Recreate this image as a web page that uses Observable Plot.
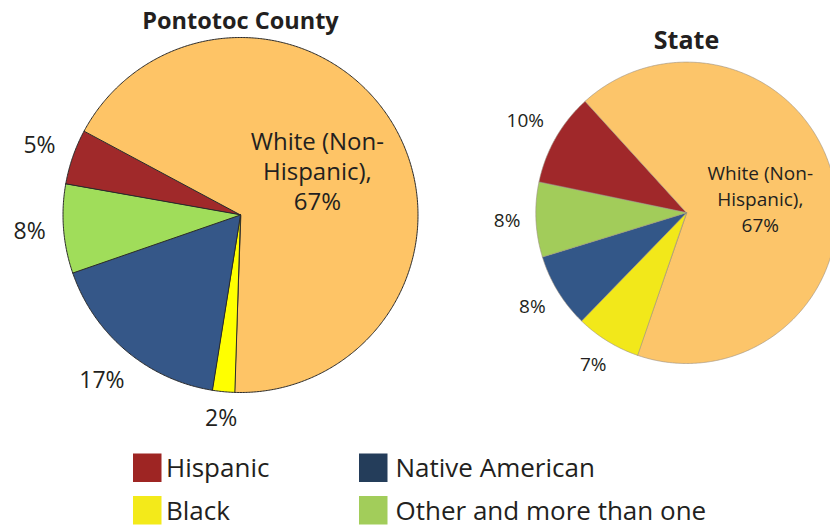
<!DOCTYPE html>
<html><head><meta charset="utf-8">
<script src="https://cdn.jsdelivr.net/npm/d3@7"></script>
<script src="https://cdn.jsdelivr.net/npm/@observablehq/plot@0.6"></script>
<style>body{margin:0;background:#fff;}</style>
</head><body><div id="chart"></div>
<script>
// ---- data ----
const categories = ["Hispanic", "White (Non-Hispanic)", "Black", "Native American", "Other and more than one"];
const countyValues = [5, 67, 2, 17, 8];
const stateValues = [10, 67, 7, 8, 8];
const pieTitles = ["Pontotoc County", "State"];
const whiteLabelLines = ["White (Non-", "Hispanic),"];
const legendOrder = ["Hispanic", "Native American", "Black", "Other and more than one"];

// ---- styles ----
const countyColors = ["#A0292A", "#FEC466", "#FFFF00", "#355788", "#A0DD5A"];
const stateColors  = ["#A0282A", "#FCC56A", "#F2E81A", "#335788", "#A2CC5A"];
const legendColors = ["#9E2523", "#243D5A", "#F3EA1A", "#A2CD5A"];
const ink = "#231F20";

// ---- layout ----
const W = 830, H = 527;
const pies = [
  {values: countyValues, colors: countyColors, cx: 240, cy: 214.5, r: 177.5, start: -80,
   titleY: 28.3, titleSize: 23.5, inSize: 24, outSize: 23, lh: 1.25, stroke: "#2a2a2a", sw: 1, pad: 17},
  {values: stateValues, colors: stateColors, cx: 686, cy: 212.3, r: 150.7, start: -78.3,
   titleY: 48.3, titleSize: 25, inSize: 19, outSize: 19, lh: 1.37, stroke: "#9a8f80", sw: 0.6, pad: 15}
];

const slicePts = [];
const outLabels = [];
const inLabels = [];
const titles = [];
pies.forEach((p, pi) => {
  const rows = categories.map((c, i) => ({cat: c, value: p.values[i], color: p.colors[i]}));
  const s0 = p.start * Math.PI / 180;
  const arcs = d3.pie().sort(null).value(d => d.value).startAngle(s0).endAngle(s0 + 2 * Math.PI)(rows);
  arcs.forEach((a, i) => {
    const id = pi + "-" + i;
    const n = Math.max(2, Math.ceil((a.endAngle - a.startAngle) * 180 / Math.PI / 0.5));
    slicePts.push({id, x: p.cx, y: p.cy, fill: a.data.color});
    for (let k = 0; k <= n; k++) {
      const t = a.startAngle + (a.endAngle - a.startAngle) * k / n;
      slicePts.push({id, x: p.cx + p.r * Math.sin(t), y: p.cy - p.r * Math.cos(t), fill: a.data.color});
    }
    const mid = (a.startAngle + a.endAngle) / 2;
    const sx = Math.sin(mid), cy = Math.cos(mid);
    const pct = a.data.value + "%";
    if (a.data.cat === "White (Non-Hispanic)") {
      inLabels.push({pie: pi, text: whiteLabelLines.join("\n") + "\n" + pct,
        x: p.cx + 0.5 * p.r * sx, y: p.cy - 0.5 * p.r * cy});
    } else {
      const w = ((pct.length - 1) * 0.572 + 0.86) * p.outSize;
      const h = 0.714 * p.outSize;
      const d = p.r + p.pad + Math.abs(sx) * w / 2 + Math.abs(cy) * h / 2;
      outLabels.push({pie: pi, text: pct, x: p.cx + d * sx, y: p.cy - d * cy});
    }
  });
  titles.push({text: pieTitles[pi], x: p.cx, y: p.titleY});
});

const legendColX = [133, 359], legendTextX = [165.5, 395];
const legendRowY = [453.5, 496], legendBase = [476.5, 519];
const legend = legendOrder.map((c, i) => ({
  cat: c, color: legendColors[i],
  x1: legendColX[i % 2], x2: legendColX[i % 2] + 28.5,
  y1: legendRowY[Math.floor(i / 2)], y2: legendRowY[Math.floor(i / 2)] + 28.5,
  tx: legendTextX[i % 2], ty: legendBase[Math.floor(i / 2)]
}));

const marks = [];
pies.forEach((p, pi) => {
  marks.push(Plot.line(slicePts.filter(d => d.id.startsWith(pi + "-")), {
    x: "x", y: "y", z: "id", fill: "fill", stroke: p.stroke, strokeWidth: p.sw,
    curve: "linear-closed", strokeLinejoin: "round"
  }));
});
pies.forEach((p, pi) => {
  marks.push(Plot.text(outLabels.filter(d => d.pie === pi), {
    x: "x", y: "y", text: "text", fontSize: p.outSize, lineAnchor: "middle", fill: ink
  }));
  marks.push(Plot.text(inLabels.filter(d => d.pie === pi), {
    x: "x", y: "y", text: "text", fontSize: p.inSize, lineHeight: p.lh, lineAnchor: "middle", fill: ink
  }));
  marks.push(Plot.text(titles.filter((d, i) => i === pi), {
    x: "x", y: "y", text: "text", fontSize: p.titleSize, fontWeight: "bold", lineAnchor: "bottom", fill: ink
  }));
});
marks.push(Plot.rect(legend, {x1: "x1", x2: "x2", y1: "y1", y2: "y2", fill: "color"}));
marks.push(Plot.text(legend, {x: "tx", y: "ty", text: "cat", fontSize: 26, textAnchor: "start", lineAnchor: "bottom", fill: ink}));

const chart = Plot.plot({
  width: W, height: H, margin: 0,
  x: {domain: [0, W], range: [0, W], axis: null},
  y: {domain: [0, H], range: [0, H], axis: null},
  color: {type: "identity"},
  style: {fontFamily: "'Open Sans', sans-serif", background: "#fff", color: ink},
  marks
});
document.getElementById("chart").appendChild(chart);
</script></body></html>
